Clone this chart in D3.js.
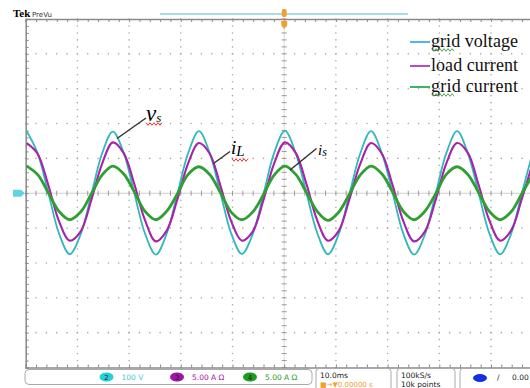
<!DOCTYPE html>
<html>
<head>
<meta charset="utf-8">
<script src="https://cdn.jsdelivr.net/npm/d3@7"></script>
<style>
  body { margin: 0; background: #fff; }
  svg { display: block; }
</style>
</head>
<body>
<svg id="chart" width="530" height="388"></svg>
<script>
// sample times (ms), 10 ms/div, trigger at screen centre (50 ms)
const timeMs = [
  0.20, 2.28, 4.36, 6.44, 8.52, 10.61, 12.69, 14.77,
  16.85, 18.93, 21.01, 23.09, 25.17, 27.25, 29.33, 31.42,
  33.50, 35.58, 37.66, 39.74, 41.82, 43.90, 45.98, 48.06,
  50.14, 52.23, 54.31, 56.39, 58.47, 60.55, 62.63, 64.71,
  66.79, 68.87, 70.95, 73.04, 75.12, 77.20, 79.28, 81.36,
  83.44, 85.52, 87.60, 89.68, 91.76, 93.85, 95.93, 98.01
];
// channel 2 : grid voltage (V)
const gridVoltage = [
  178, 116, 2, -115, -175, -119, -4, 114,
  177, 117, 0, -116, -176, -117, -2, 115,
  178, 116, 1, -115, -174, -118, -3, 116,
  179, 115, 0, -114, -175, -117, -2, 114,
  178, 116, 2, -116, -176, -119, -3, 115,
  178, 115, 1, -115, -175, -118, -2, 114
];
// channel 3 : load current (A)
const loadCurrent = [
  7.2, 5.7, 1.2, -4.0, -6.8, -5.5, -1.0, 4.2,
  7.3, 5.8, 1.3, -3.9, -6.9, -5.4, -0.9, 4.3,
  7.2, 5.7, 1.1, -4.0, -6.8, -5.5, -1.0, 4.3,
  7.3, 5.8, 1.3, -3.9, -6.8, -5.4, -0.8, 4.2,
  7.2, 5.7, 1.2, -4.0, -6.9, -5.5, -1.0, 4.3,
  7.2, 5.8, 1.2, -3.9, -6.8, -5.4, -0.9, 4.2
];
// channel 4 : grid current (A)
const gridCurrent = [
  3.9, 2.7, 0.1, -2.6, -3.8, -2.7, -0.1, 2.6,
  3.9, 2.8, 0.2, -2.6, -3.8, -2.6, -0.1, 2.7,
  3.8, 2.7, 0.1, -2.7, -3.8, -2.7, -0.2, 2.6,
  3.9, 2.7, 0.1, -2.6, -3.9, -2.7, -0.1, 2.6,
  3.9, 2.8, 0.2, -2.6, -3.8, -2.6, -0.1, 2.7,
  3.8, 2.7, 0.1, -2.6, -3.8, -2.7, -0.1, 2.6
];
const legendLabels = ["grid voltage", "load current", "grid current"];
const channelNums = ["2", "3", "4"];
const channelScales = ["100 V", "5.00 A \u03A9", "5.00 A \u03A9"];
const timeBase = ["10.0ms", "\u25A0\u2192\u25BC0.00000 s"];
const sampleInfo = ["100kS/s", "10k points"];

const cyan = "#34b7bb", magenta = "#a424aa", green = "#2f9f32";
const legendColors = ["#4bb8e6", "#b64cc2", "#3bb36a"];

const svg = d3.select("#chart");

// screen: 10 x 10 divisions
const scrLeft = 25.7, scrTop = 19, divW = 51.7, divH = 34.85;
const x = d3.scaleLinear().domain([0, 100]).range([scrLeft, scrLeft + 10 * divW]);
const yDiv = d3.scaleLinear().domain([-5, 5]).range([scrTop + 10 * divH, scrTop]);
const yV = d3.scaleLinear().domain([-500, 500]).range(yDiv.range());
const yA = d3.scaleLinear().domain([-25, 25]).range(yDiv.range());

const minorT = d3.range(0, 100.01, 2);
const minorD = d3.range(-5, 5.01, 0.2);
const majorT = d3.range(10, 100, 10).filter(t => t !== 50);
const majorD = [-4, -3, -2, -1, 1, 2, 3, 4];

const grid = svg.append("g");

// dotted graticule
majorT.forEach(t => {
  grid.selectAll(null).data(minorD).join("circle")
    .attr("cx", x(t)).attr("cy", d => yDiv(d)).attr("r", 0.8).attr("fill", "#a8a8a8");
});
majorD.forEach(d0 => {
  grid.selectAll(null).data(minorT).join("circle")
    .attr("cx", t => x(t)).attr("cy", yDiv(d0)).attr("r", 0.8).attr("fill", "#a8a8a8");
});

// centre crosshair
grid.append("line").attr("x1", scrLeft).attr("x2", 530).attr("y1", yDiv(0)).attr("y2", yDiv(0))
  .attr("stroke", "#cfcfcf").attr("stroke-width", 1);
grid.append("line").attr("x1", x(50)).attr("x2", x(50)).attr("y1", scrTop).attr("y2", yDiv(-5))
  .attr("stroke", "#d8d8d8").attr("stroke-width", 1);
grid.selectAll(null).data(minorT).join("line")
  .attr("x1", t => x(t)).attr("x2", t => x(t))
  .attr("y1", yDiv(0) - 2.5).attr("y2", yDiv(0) + 2.5)
  .attr("stroke", "#999").attr("stroke-width", 1);
grid.selectAll(null).data(minorD).join("line")
  .attr("x1", x(50) - 2.5).attr("x2", x(50) + 2.5)
  .attr("y1", d => yDiv(d)).attr("y2", d => yDiv(d))
  .attr("stroke", "#999").attr("stroke-width", 1);

// border with ticks
grid.append("g").attr("transform", `translate(0,${scrTop})`)
  .call(d3.axisBottom(x).tickValues(minorT).tickSize(3).tickFormat(""))
  .call(g => g.select(".domain").attr("stroke", "#8a8a8a").attr("stroke-width", 1.5))
  .call(g => g.selectAll(".tick line").attr("stroke", "#8a8a8a"));
grid.append("g").attr("transform", `translate(0,${yDiv(-5)})`)
  .call(d3.axisTop(x).tickValues(minorT).tickSize(3).tickFormat(""))
  .call(g => g.select(".domain").attr("stroke", "#8a8a8a").attr("stroke-width", 1.5))
  .call(g => g.selectAll(".tick line").attr("stroke", "#8a8a8a"));
grid.append("g").attr("transform", `translate(${scrLeft},0)`)
  .call(d3.axisRight(yDiv).tickValues(minorD).tickSize(3).tickFormat(""))
  .call(g => g.select(".domain").attr("stroke", "#8a8a8a").attr("stroke-width", 1.5))
  .call(g => g.selectAll(".tick line").attr("stroke", "#8a8a8a"));

// waveforms
svg.append("clipPath").attr("id", "screen").append("rect")
  .attr("x", scrLeft).attr("y", scrTop).attr("width", 530 - scrLeft).attr("height", 10 * divH);
const traces = svg.append("g").attr("clip-path", "url(#screen)");
const series = [
  { values: gridVoltage, y: yV, color: cyan, w: 1.8 },
  { values: loadCurrent, y: yA, color: magenta, w: 2.1 },
  { values: gridCurrent, y: yA, color: green, w: 2.8 }
];
series.forEach(s => {
  const line = d3.line().curve(d3.curveCatmullRom)
    .x((d, i) => x(timeMs[i])).y(d => s.y(d));
  traces.append("path").attr("d", line(s.values))
    .attr("fill", "none").attr("stroke", s.color).attr("stroke-width", s.w)
    .attr("stroke-linejoin", "round");
});

// header
svg.append("text").attr("x", 13).attr("y", 17).text("Tek")
  .attr("font-family", "Liberation Serif").attr("font-weight", "bold").attr("font-size", 11);
svg.append("text").attr("x", 32).attr("y", 17).text("PreVu")
  .attr("font-family", "DejaVu Sans").attr("font-size", 7).attr("fill", "#333");
svg.append("line").attr("x1", 160).attr("x2", 408).attr("y1", 14).attr("y2", 14)
  .attr("stroke", "#8ad6da").attr("stroke-width", 1.5);
// trigger position marker
svg.append("rect").attr("x", x(50) - 2.5).attr("y", 9).attr("width", 5).attr("height", 8).attr("rx", 2)
  .attr("fill", "#f0a030");
svg.append("path").attr("d", `M${x(50) - 3},21 L${x(50) + 3},21 L${x(50) + 3},25 L${x(50)},29 L${x(50) - 3},25 Z`)
  .attr("fill", "#f0a030");
// channel ground marker
svg.append("path")
  .attr("d", `M13,${yDiv(0) - 3.5} L21,${yDiv(0) - 3.5} L25,${yDiv(0)} L21,${yDiv(0) + 3.5} L13,${yDiv(0) + 3.5} Z`)
  .attr("fill", "#5fd3e0");

// annotations
const note = svg.append("g").attr("font-family", "Liberation Serif").attr("font-style", "italic");
note.append("line").attr("x1", 146).attr("y1", 118).attr("x2", 117).attr("y2", 138.5)
  .attr("stroke", "#333").attr("stroke-width", 1.5);
note.append("line").attr("x1", 230).attr("y1", 151.5).attr("x2", 213.5).attr("y2", 163.5)
  .attr("stroke", "#333").attr("stroke-width", 1.5);
note.append("line").attr("x1", 316.5).attr("y1", 148.5).attr("x2", 290).attr("y2", 170)
  .attr("stroke", "#333").attr("stroke-width", 1.5);
const vs = note.append("text").attr("x", 146).attr("y", 121).attr("font-size", 23);
vs.append("tspan").text("v");
vs.append("tspan").text("s").attr("font-size", 13).attr("dy", 1);
const iL = note.append("text").attr("x", 231).attr("y", 154).attr("font-size", 19);
iL.append("tspan").text("i");
iL.append("tspan").text("L").attr("font-size", 15).attr("dy", 2);
const is = note.append("text").attr("x", 318).attr("y", 155).attr("font-size", 15);
is.append("tspan").text("i");
is.append("tspan").text("s").attr("font-size", 12).attr("dy", 1);

// spell-check squiggles
function squiggle(x0, x1, y, color) {
  const pts = d3.range(x0, x1 + 0.1, 2).map((px, i) => [px, y + (i % 2 ? 1.3 : -1.3)]);
  svg.append("path").attr("d", d3.line()(pts)).attr("fill", "none")
    .attr("stroke", color).attr("stroke-width", 0.9);
}
squiggle(146, 163, 124, "#e02020");
squiggle(232, 248, 160, "#e02020");

// legend
const legend = svg.append("g").attr("font-family", "Liberation Serif").attr("font-size", 18);
const legendY = [42, 66, 87];
legendLabels.forEach((label, i) => {
  legend.append("line").attr("x1", 410).attr("x2", 430).attr("y1", legendY[i]).attr("y2", legendY[i])
    .attr("stroke", legendColors[i]).attr("stroke-width", 2);
  legend.append("text").attr("x", 431).attr("y", legendY[i] + 5).text(label).attr("fill", "#111")
    .attr("textLength", 87).attr("lengthAdjust", "spacing");
});
squiggle(432, 455, 50, "#3a9a3a");
squiggle(432, 455, 95, "#3a9a3a");

// readout bar
const bar = svg.append("g").attr("font-family", "DejaVu Sans").attr("font-size", 7.5);
bar.append("rect").attr("x", 25).attr("y", 369.5).attr("width", 287).attr("height", 15).attr("rx", 4)
  .attr("fill", "#fff").attr("stroke", "#aaa");
const chX = [106.5, 177, 250];
const chColors = [cyan, "#a012a6", "#1e9a1e"];
channelNums.forEach((n, i) => {
  bar.append("ellipse").attr("cx", chX[i]).attr("cy", 377).attr("rx", 7).attr("ry", 4.5)
    .attr("fill", i === 0 ? "#22d0d8" : chColors[i]);
  bar.append("text").attr("x", chX[i]).attr("y", 380).attr("text-anchor", "middle")
    .attr("font-size", 7).attr("fill", "#222").text(n);
  bar.append("text").attr("x", chX[i] + 15).attr("y", 380).attr("fill", i === 0 ? "#3cc8cc" : chColors[i])
    .text(channelScales[i]);
});
const boxes = [[316, 75], [397, 58], [460, 80]];
boxes.forEach(([bx, bw]) => {
  bar.append("rect").attr("x", bx).attr("y", 368.5).attr("width", bw).attr("height", 24).attr("rx", 3)
    .attr("fill", "#fff").attr("stroke", "#aaa");
});
bar.append("text").attr("x", 320).attr("y", 378).text(timeBase[0]).attr("fill", "#222");
bar.append("text").attr("x", 320).attr("y", 387).text(timeBase[1]).attr("fill", "#f0a030").attr("font-size", 7);
bar.append("text").attr("x", 401).attr("y", 378).text(sampleInfo[0]).attr("fill", "#222");
bar.append("text").attr("x", 401).attr("y", 387).text(sampleInfo[1]).attr("fill", "#222");
bar.append("ellipse").attr("cx", 480).attr("cy", 378).attr("rx", 7).attr("ry", 4).attr("fill", "#1530e0");
bar.append("text").attr("x", 497).attr("y", 380).text("/").attr("fill", "#222");
bar.append("text").attr("x", 512).attr("y", 380).text("0.00").attr("fill", "#222");
</script>
</body>
</html>
